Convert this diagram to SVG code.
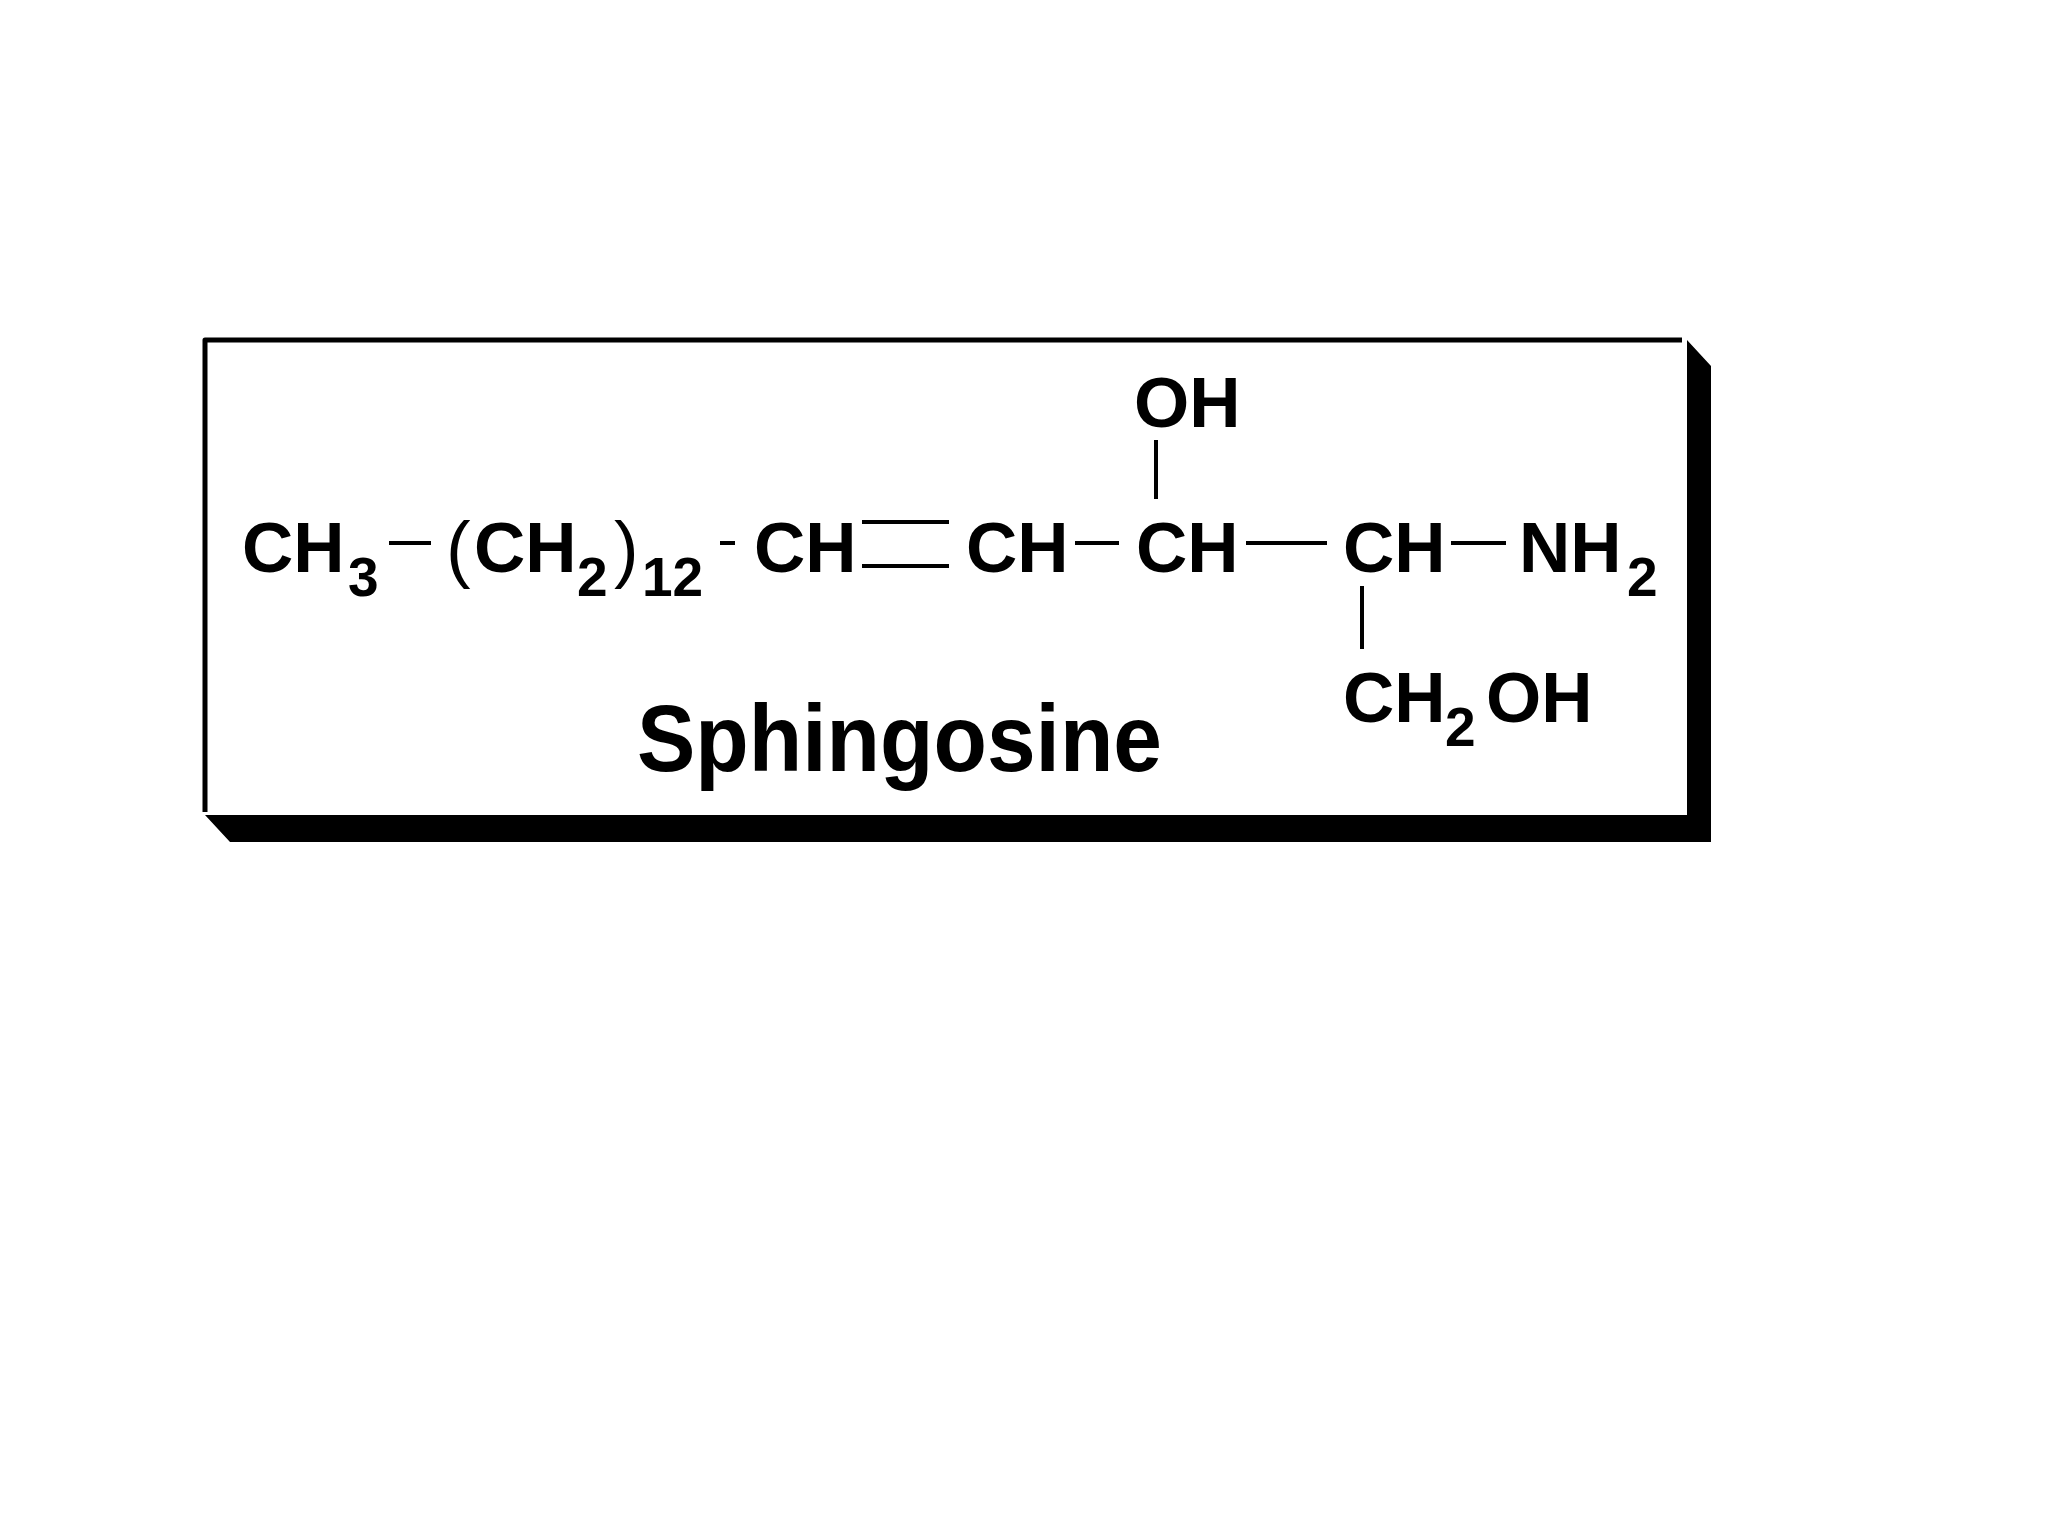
<svg xmlns="http://www.w3.org/2000/svg" width="2048" height="1536" viewBox="0 0 2048 1536">
<style>
text{font-family:"Liberation Sans",Arial,sans-serif;font-weight:bold;fill:#000}
.m{font-size:71px}.s{font-size:55px}.p{font-size:74px;font-weight:normal}
line{stroke:#000;stroke-width:4}
</style>
<rect width="2048" height="1536" fill="#fff"/>
<g id="frame">
<polygon points="205,815 230,842 1711,842 1711,366 1687,340 1687,815" fill="#000"/>
<polyline points="205,812 205,340 1682,340" fill="none" stroke="#000" stroke-width="5" stroke-linejoin="round"/>
</g>
<g id="connectors">
<line x1="389" y1="543" x2="431" y2="543"/>
<line x1="720" y1="543" x2="735" y2="543"/>
<line x1="862" y1="522" x2="949" y2="522"/>
<line x1="862" y1="566" x2="949" y2="566"/>
<line x1="1075" y1="543" x2="1119" y2="543"/>
<line x1="1156" y1="440" x2="1156" y2="499"/>
<line x1="1246" y1="543" x2="1327" y2="543"/>
<line x1="1451" y1="543" x2="1506" y2="543"/>
<line x1="1362" y1="586" x2="1362" y2="649"/>
</g>
<g id="ch3"><text class="m" x="242" y="572">CH</text><text class="s" x="348" y="596">3</text></g>
<g id="ch2n"><text class="p" x="446" y="574">(</text><text class="m" x="474" y="572">CH</text><text class="s" x="577" y="596">2</text><text class="p" x="614" y="574">)</text><text class="s" x="642" y="596">12</text></g>
<g id="ch1"><text class="m" x="754" y="572">CH</text></g>
<g id="ch2"><text class="m" x="966" y="572">CH</text></g>
<g id="ch3b"><text class="m" x="1136" y="572">CH</text><text class="m" x="1134" y="427">OH</text></g>
<g id="ch4"><text class="m" x="1343" y="572">CH</text></g>
<g id="nh2"><text class="m" x="1519" y="572">NH</text><text class="s" x="1627" y="596">2</text></g>
<g id="ch2oh"><text class="m" x="1343" y="722">CH</text><text class="s" x="1445" y="746">2</text><text class="m" x="1486" y="722">OH</text></g>
<g id="label"><text x="637" y="771" font-size="94" textLength="525" lengthAdjust="spacingAndGlyphs">Sphingosine</text></g>
</svg>
